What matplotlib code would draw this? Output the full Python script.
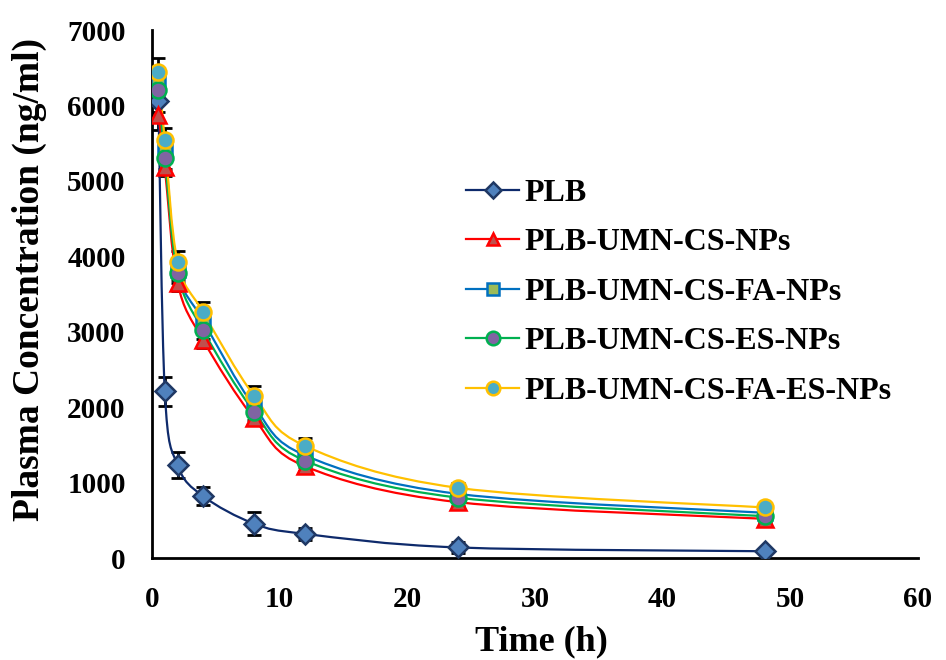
import numpy as np
import matplotlib
matplotlib.use("Agg")
import matplotlib.pyplot as plt
from matplotlib.path import Path
from matplotlib.patches import PathPatch
from matplotlib.lines import Line2D

plt.rcParams["font.family"] = ["Liberation Serif", "DejaVu Serif"]
plt.rcParams["font.weight"] = "bold"

time_h = [0.5, 1, 2, 4, 8, 12, 24, 48]

plb = [6060, 2210, 1230, 820, 455, 320, 140, 90]
plb_sd = [150, 190, 175, 120, 150, 80, 70, 30]

cs_nps = [5880, 5180, 3650, 2890, 1850, 1215, 740, 520]
cs_nps_sd = [200, 120, 110, 100, 90, 60, 50, 40]

cs_fa_nps = [6320, 5450, 3820, 3150, 2010, 1360, 850, 600]
cs_fa_nps_sd = [180, 150, 130, 130, 120, 90, 70, 60]

cs_es_nps = [6200, 5310, 3780, 3020, 1940, 1290, 800, 555]
cs_es_nps_sd = [180, 150, 130, 120, 110, 80, 60, 50]

cs_fa_es_nps = [6440, 5540, 3925, 3260, 2150, 1485, 930, 670]
cs_fa_es_nps_sd = [190, 160, 150, 130, 130, 100, 70, 60]

labels = ["PLB", "PLB-UMN-CS-NPs", "PLB-UMN-CS-FA-NPs",
          "PLB-UMN-CS-ES-NPs", "PLB-UMN-CS-FA-ES-NPs"]

# (line colour, marker, marker face, marker edge, marker size)
styles = [
    ("#0E2A6B", "D", "#4F81BD", "#1F3864", 10),
    ("#FF0000", "^", "#C0504D", "#FF0000", 11),
    ("#0070C0", "s", "#9BBB59", "#0070C0", 10),
    ("#00B050", "o", "#8064A2", "#00B050", 11.5),
    ("#FFC000", "o", "#4BACC6", "#FFC000", 11.5),
]


def smooth_path(x, y):
    # Cardinal-spline style cubic Bezier through every point
    pts = np.column_stack([x, y]).astype(float)
    n = len(pts)
    verts = [pts[0]]
    codes = [Path.MOVETO]
    for i in range(n - 1):
        p0 = pts[i - 1] if i > 0 else pts[i]
        p1 = pts[i]
        p2 = pts[i + 1]
        p3 = pts[i + 2] if i + 2 < n else pts[i + 1]
        c1 = p1 + (p2 - p0) / 6.0
        c2 = p2 - (p3 - p1) / 6.0
        verts += [c1, c2, p2]
        codes += [Path.CURVE4] * 3
    return Path(verts, codes)


fig = plt.figure(figsize=(9.46, 6.6), dpi=100)
ax = fig.add_axes([0.1607, 0.1545, 0.8097, 0.8])

series = [(plb, plb_sd), (cs_nps, cs_nps_sd), (cs_fa_nps, cs_fa_nps_sd),
          (cs_es_nps, cs_es_nps_sd), (cs_fa_es_nps, cs_fa_es_nps_sd)]

handles = []
for k, ((vals, sd), (lc, mk, mf, me, ms)) in enumerate(zip(series, styles)):
    ax.errorbar(time_h, vals, yerr=sd, fmt="none", ecolor="black",
                elinewidth=2, capsize=5, capthick=2, zorder=2 + k * 0.1)
    ax.add_patch(PathPatch(smooth_path(time_h, vals), fill=False,
                           edgecolor=lc, linewidth=1.6, zorder=3 + k * 0.1))
    ax.plot(time_h, vals, linestyle="none", marker=mk, markersize=ms,
            markerfacecolor=mf, markeredgecolor=me, markeredgewidth=1.8,
            zorder=4 + k * 0.1)
    handles.append(Line2D([], [], color=lc, linewidth=1.6, marker=mk,
                          markersize=ms * 0.85, markerfacecolor=mf,
                          markeredgecolor=me, markeredgewidth=1.8))

ax.set_xlim(0, 60)
ax.set_ylim(0, 7000)
ax.set_xticks(range(0, 61, 10))
ax.set_yticks(range(0, 7001, 1000))
ax.tick_params(length=0, labelsize=21)
ax.tick_params(axis="x", pad=20)
ax.tick_params(axis="y", pad=19)
for lab in ax.get_xticklabels() + ax.get_yticklabels():
    lab.set_fontweight("bold")

for side in ("top", "right"):
    ax.spines[side].set_visible(False)
for side in ("left", "bottom"):
    ax.spines[side].set_linewidth(2)

ax.set_xlabel("Time (h)", fontsize=26, fontweight="bold")
ax.set_ylabel("Plasma Concentration (ng/ml)", fontsize=27, fontweight="bold")
ax.xaxis.set_label_coords(0.508, -0.128)
ax.yaxis.set_label_coords(-0.137, 0.527)

ax.legend(handles, labels, loc="upper left", bbox_to_anchor=(0.373, 0.773),
          frameon=False, handlelength=1.65, handletextpad=0.17,
          labelspacing=0.63, prop={"weight": "bold", "size": 23})

fig.savefig("out.png", dpi=100, facecolor="white")
